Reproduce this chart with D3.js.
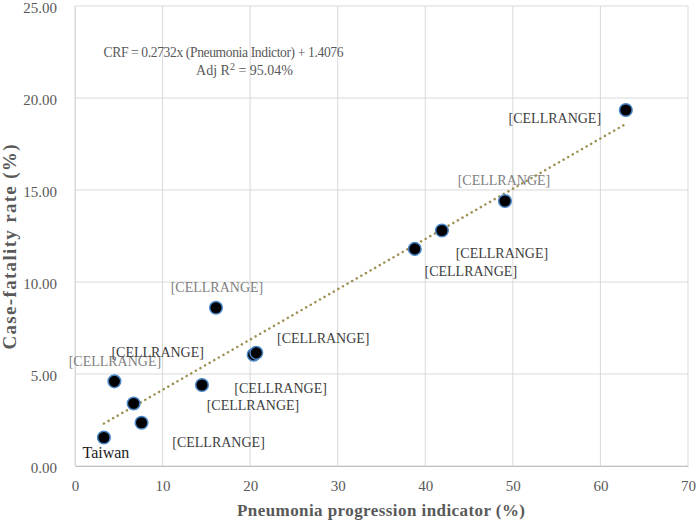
<!DOCTYPE html>
<html>
<head>
<meta charset="utf-8">
<script src="https://cdn.jsdelivr.net/npm/d3@7"></script>
<style>
html,body{margin:0;padding:0;background:#fff;}
svg{display:block;font-family:"Liberation Serif","Times New Roman",serif;}
</style>
</head>
<body>
<svg id="chart" width="697" height="522"></svg>
<script>
// ---- data ----
const labels = ["Taiwan","[CELLRANGE]","[CELLRANGE]","[CELLRANGE]","[CELLRANGE]","[CELLRANGE]","[CELLRANGE]","[CELLRANGE]","[CELLRANGE]","[CELLRANGE]","[CELLRANGE]","[CELLRANGE]"];
const pneumoniaIndicator = [3.3, 4.5, 6.7, 7.6, 14.5, 16.1, 20.4, 20.7, 38.8, 41.9, 49.1, 62.9];
const caseFatalityRate   = [1.55, 4.6, 3.4, 2.35, 4.4, 8.6, 6.05, 6.15, 11.8, 12.8, 14.4, 19.35];
const xTicks = [0, 10, 20, 30, 40, 50, 60, 70];
const yTicks = [0, 5, 10, 15, 20, 25];
const trendSlope = 0.2732;
const trendIntercept = 1.4076;
const equationLines = ["CRF = 0.2732x (Pneumonia Indictor) + 1.4076", "Adj R", "2", " = 95.04%"];
const xTitle = "Pneumonia progression indicator (%)";
const yTitle = "Case-fatality rate (%)";

// ---- layout (label placement, pixels) ----
const labelOffsets = [[2,20.5],[0.5,-15.5],[24,-46],[77,24],[51,25],[1,-16],[27,38],[67,-10],[56,27],[60,27.5],[-1,-16],[-71,13]];
const labelColors = ["#1a1a1a","#7f7f7f","#404040","#404040","#404040","#7f7f7f","#404040","#404040","#404040","#404040","#7f7f7f","#404040"];

const svg = d3.select("#chart");
const m = {left:75, right:688, top:6, bottom:466};
const x = d3.scaleLinear().domain([0,70]).range([m.left, m.right]);
const y = d3.scaleLinear().domain([0,25]).range([m.bottom, m.top]);

// gridlines
const grid = svg.append("g");
grid.selectAll("line.v").data(xTicks).join("line")
  .attr("x1", d=>x(d)).attr("x2", d=>x(d)).attr("y1", m.top).attr("y2", m.bottom)
  .attr("stroke", "#d9d9d9").attr("stroke-width", 1);
grid.selectAll("line.h").data(yTicks).join("line")
  .attr("y1", d=>y(d)).attr("y2", d=>y(d)).attr("x1", m.left).attr("x2", m.right)
  .attr("stroke", "#d9d9d9").attr("stroke-width", 1);

// axes
const xAxis = svg.append("g").attr("transform", `translate(0,${m.bottom})`)
  .call(d3.axisBottom(x).tickValues(xTicks).tickSize(0).tickPadding(14).tickFormat(d3.format("d")));
xAxis.select(".domain").attr("stroke", "#bfbfbf");
xAxis.selectAll("text").attr("fill","#595959").style("font-size","15px").style("font-family","Liberation Serif");

const yAxis = svg.append("g").attr("transform", `translate(${m.left},0)`)
  .call(d3.axisLeft(y).tickValues(yTicks).tickSize(0).tickPadding(18).tickFormat(d3.format(".2f")));
yAxis.select(".domain").attr("stroke", "#d9d9d9");
yAxis.selectAll("text").attr("fill","#595959").attr("dy","0.42em").style("font-size","15px").style("font-family","Liberation Serif");

// axis titles
svg.append("text").attr("x", 381).attr("y", 516).attr("text-anchor","middle")
  .attr("fill","#595959").style("font-size","17px").style("font-weight","bold")
  .attr("textLength", 288).attr("lengthAdjust","spacing").text(xTitle);
svg.append("text").attr("transform","translate(16,247) rotate(-90)").attr("text-anchor","middle")
  .attr("fill","#595959").style("font-size","19px").style("font-weight","bold")
  .attr("textLength", 205).attr("lengthAdjust","spacing").text(yTitle);

// trendline
const xMin = d3.min(pneumoniaIndicator), xMax = d3.max(pneumoniaIndicator);
svg.append("line")
  .attr("x1", x(xMin)).attr("y1", y(trendSlope*xMin+trendIntercept))
  .attr("x2", x(xMax)).attr("y2", y(trendSlope*xMax+trendIntercept))
  .attr("stroke", "#9e8f52").attr("stroke-width", 2.5)
  .attr("stroke-dasharray","0.1 5.2").attr("stroke-linecap","round");

// points
const pts = pneumoniaIndicator.map((v,i)=>({x:v, y:caseFatalityRate[i], label:labels[i], i}));
svg.append("g").selectAll("circle").data(pts).join("circle")
  .attr("cx", d=>x(d.x)).attr("cy", d=>y(d.y)).attr("r", 6.3)
  .attr("fill", "#000").attr("stroke", "#4a86c8").attr("stroke-width", 1.5);

// labels
svg.append("g").selectAll("text").data(pts).join("text")
  .attr("x", d=>x(d.x)+labelOffsets[d.i][0])
  .attr("y", d=>y(d.y)+labelOffsets[d.i][1])
  .attr("text-anchor","middle")
  .attr("fill", d=>labelColors[d.i])
  .style("font-size", d=>d.i===0 ? "16px" : "14px")
  .text(d=>d.label);

// equation
svg.append("text").attr("x", 223.5).attr("y", 57).attr("text-anchor","middle")
  .attr("fill","#595959").style("font-size","13.6px")
  .attr("textLength", 240).attr("lengthAdjust","spacing").text(equationLines[0]);
const eq2 = svg.append("text").attr("x", 244.5).attr("y", 75).attr("text-anchor","middle")
  .attr("fill","#595959").style("font-size","14px");
eq2.append("tspan").text(equationLines[1]);
eq2.append("tspan").attr("dy",-5).style("font-size","10px").text(equationLines[2]);
eq2.append("tspan").attr("dy",5).text(equationLines[3]);
</script>
</body>
</html>
